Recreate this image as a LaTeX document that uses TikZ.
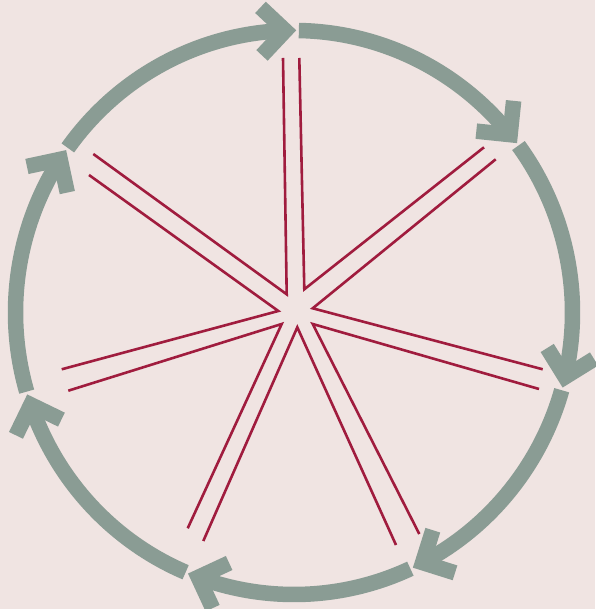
\documentclass[tikz,border=0pt]{standalone}
\usetikzlibrary{calc}
\definecolor{bgc}{RGB}{240,228,226}
\definecolor{arcc}{RGB}{138,156,148}
\definecolor{spoke}{RGB}{160,28,62}
\begin{document}
\begin{tikzpicture}[x=1pt,y=1pt,
  ring/.style={draw=arcc,line width=15.5pt,line cap=butt,line join=miter,miter limit=10},
  spk/.style={draw=spoke,line width=2.6pt,line cap=butt,line join=miter,miter limit=10}]
\fill[bgc] (0,0) rectangle (595,609);
\useasboundingbox (0,0) rectangle (595,609);
\coordinate (C) at (294,296.5);
\def\RX{278.5}
\def\RY{282}
\newcommand\seg[2]{%
  \draw[ring] ($(C)+(#1:\RX pt and \RY pt)$) arc[start angle=#1,end angle=#2,x radius=\RX pt,y radius=\RY pt];
  \coordinate (P) at ($(C)+(#2:\RX pt and \RY pt)$);
  \draw[ring] ($(P)+(#2+45:34)$) -- (P) -- ($(P)+(#2+135:34)$);
}
\seg{89.0}{39.1}
\seg{36.3}{-13.2}
\seg{-16.0}{-62.5}
\seg{-65.3}{-110.1}
\seg{-112.9}{-160.9}
\seg{-163.7}{-212.9}
\seg{-215.7}{-268.2}
% spokes
\coordinate (v1) at (286.7,314.7);
\coordinate (v2) at (304.3,319.7);
\coordinate (v3) at (312.7,300.7);
\coordinate (v4) at (312.7,285);
\coordinate (v5) at (297.3,281.7);
\coordinate (v6) at (281.7,285);
\coordinate (v7) at (278.3,298);
\coordinate (tl) at (283,551);
\coordinate (tr) at (299.3,551);
\coordinate (uru) at (484,461.7);
\coordinate (url) at (495.7,449.7);
\coordinate (ru) at (542.7,239.7);
\coordinate (rl) at (539,220);
\coordinate (lrr) at (419.3,75);
\coordinate (lrl) at (396,64);
\coordinate (llr) at (203.3,68);
\coordinate (lll) at (187.7,80.7);
\coordinate (ll) at (68.3,218.3);
\coordinate (lu) at (61.7,239.7);
\coordinate (ull) at (89,434);
\coordinate (ulu) at (93.3,455);
\draw[spk] (tr) -- (v2) -- (uru);
\draw[spk] (url) -- (v3) -- (ru);
\draw[spk] (rl) -- (v4) -- (lrr);
\draw[spk] (lrl) -- (v5) -- (llr);
\draw[spk] (lll) -- (v6) -- (ll);
\draw[spk] (lu) -- (v7) -- (ull);
\draw[spk] (ulu) -- (v1) -- (tl);
\end{tikzpicture}
\end{document}
